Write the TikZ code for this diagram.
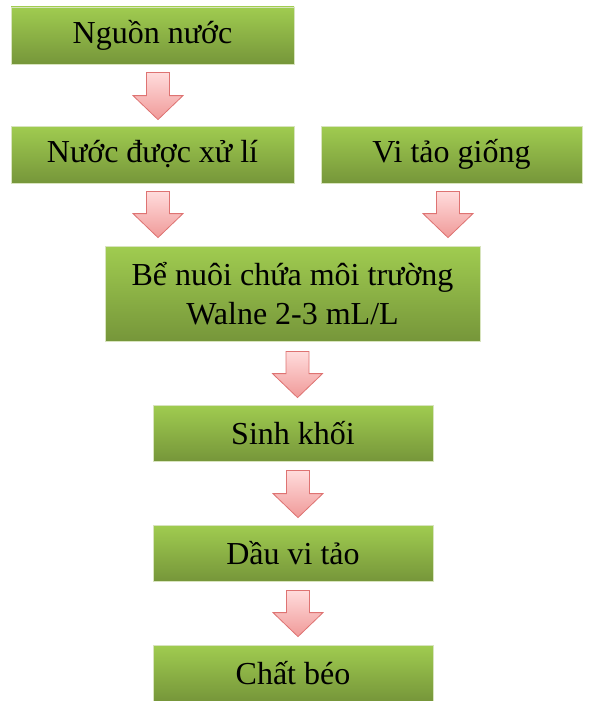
\documentclass[tikz,border=0pt]{standalone}
\usepackage{fontspec}
\setmainfont{Liberation Serif}
\usetikzlibrary{positioning, calc}
\definecolor{boxtop}{HTML}{A0CC50}
\definecolor{boxbot}{HTML}{76963A}
\definecolor{boxline}{HTML}{D8E4BE}
\definecolor{arrtop}{HTML}{FFDCDC}
\definecolor{arrbot}{HTML}{F09A99}
\definecolor{arrline}{HTML}{DE7372}

\begin{document}
\begin{tikzpicture}[x=1pt, y=1pt,
    stage/.style={draw=boxline, line width=0.8pt, top color=boxtop, bottom color=boxbot,
                  font=\fontsize{32}{39}\selectfont, align=center, inner sep=0pt},
    flowarr/.style={draw=arrline, line width=0.8pt, top color=arrtop, bottom color=arrbot,
                  to path={let \p1=(\tikztostart), \p2=(\tikztotarget) in
                    (\x1-11.5pt,\y1) -- (\x1+11.5pt,\y1) -- (\x1+11.5pt,\y2+24pt)
                    -- (\x1+25pt,\y2+24pt) -- (\x1,\y2) -- (\x1-25pt,\y2+24pt)
                    -- (\x1-11.5pt,\y2+24pt) -- cycle}}]
    \useasboundingbox (0,0) rectangle (595,-701);
    \node[stage, minimum width=283, minimum height=57] (src) at (152.5,-35.5) {Nguồn nước};
    \node[stage, minimum width=283, minimum height=57] (treat) at (152.5,-154.5) {Nước được xử lí};
    \node[stage, minimum width=261, minimum height=57] (seed) at (451.5,-154.5) {Vi tảo giống};
    \node[stage, minimum width=375, minimum height=95] (tank) at (292.5,-293.5) {Bể nuôi chứa môi trường\\Walne 2-3 mL/L};
    \node[stage, minimum width=280, minimum height=56] (bio) at (293,-433) {Sinh khối};
    \node[stage, minimum width=280, minimum height=56] (oil) at (293,-553) {Dầu vi tảo};
    \node[stage, minimum width=280, minimum height=56] (fat) at (293,-673) {Chất béo};

    \path[flowarr] ([xshift=5.5pt, yshift=-8pt]src.south) to ([yshift=6pt]treat.north);
    \path[flowarr] ([xshift=5.5pt, yshift=-8pt]treat.south) to ([yshift=8pt]tank.north);
    \path[flowarr] ([xshift=-3.5pt, yshift=-8pt]seed.south) to ([yshift=8pt]tank.north);
    \path[flowarr] ([xshift=5pt, yshift=-10pt]tank.south) to ([yshift=7pt]bio.north);
    \path[flowarr] ([xshift=5pt, yshift=-9pt]bio.south) to ([yshift=7pt]oil.north);
    \path[flowarr] ([xshift=5pt, yshift=-9pt]oil.south) to ([yshift=8pt]fat.north);
\end{tikzpicture}
\end{document}
